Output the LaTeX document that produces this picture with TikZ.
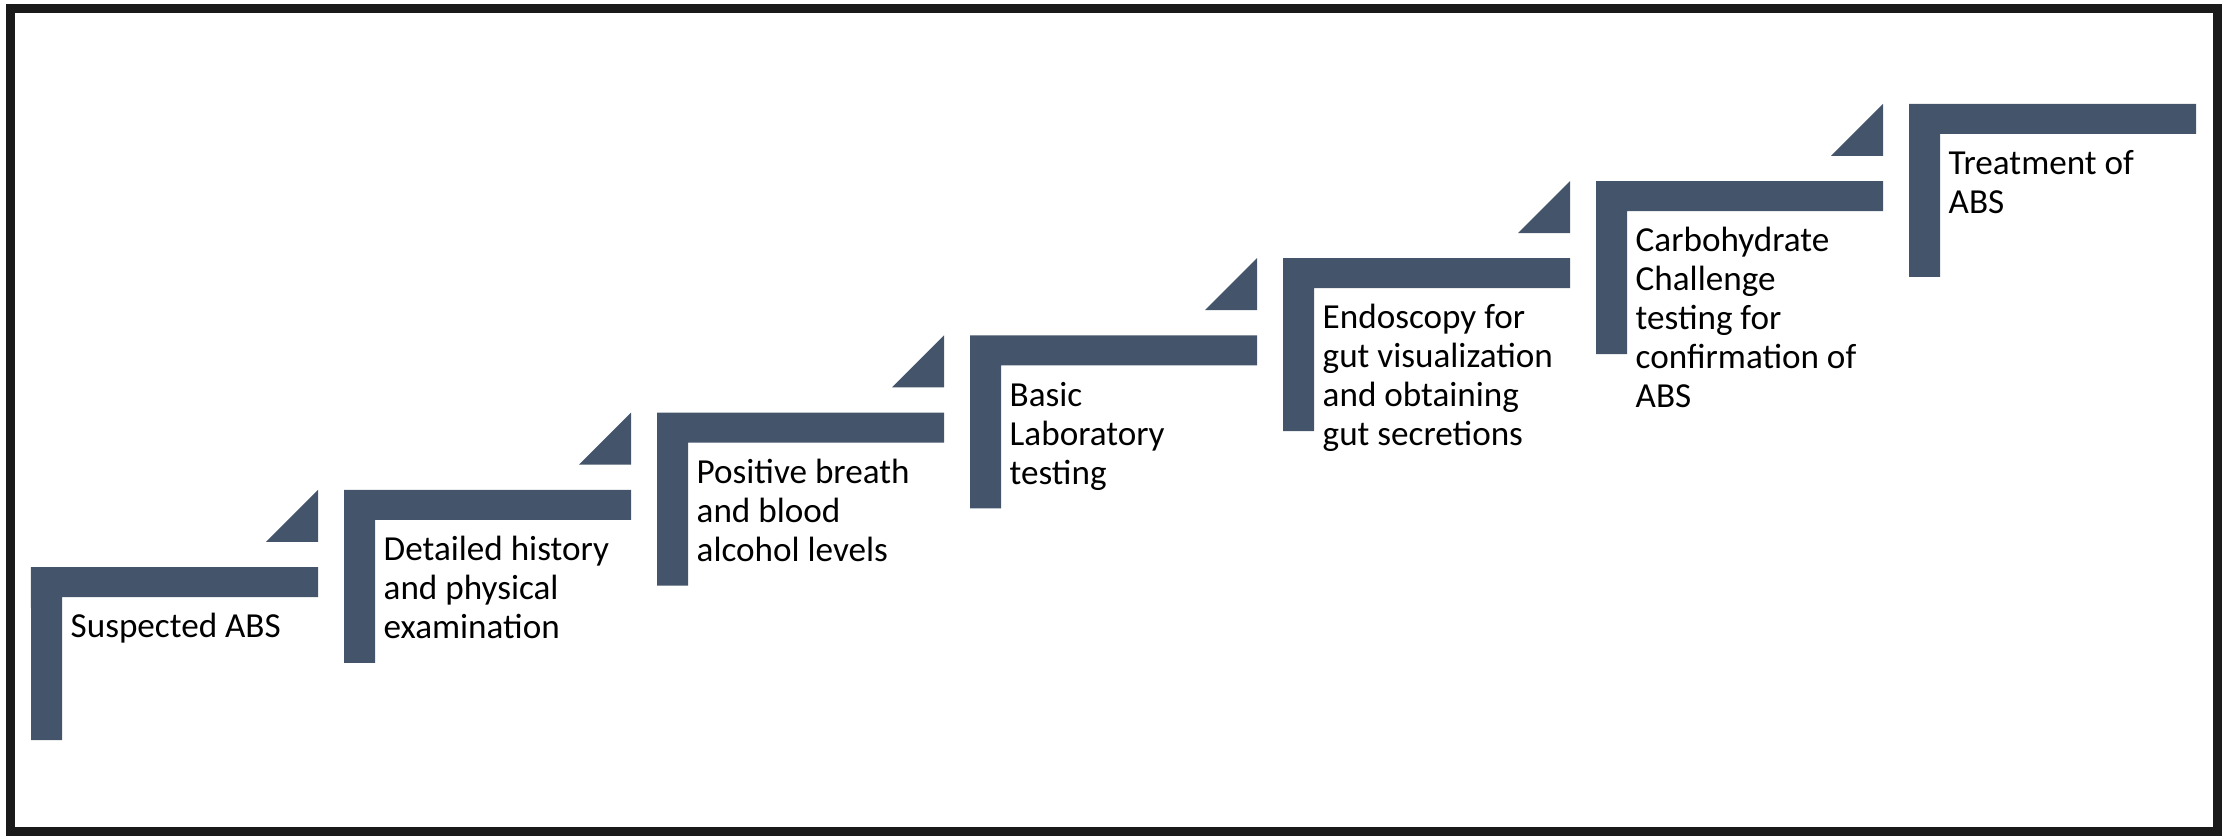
\documentclass[tikz,border=0pt]{standalone}
\usepackage{fontspec}
\setmainfont{Carlito}
\usepackage{xcolor}
\usepackage{tikz}
\usetikzlibrary{positioning,calc}
\definecolor{stepblue}{HTML}{44546A}
\definecolor{framedark}{HTML}{1A1A1A}
\tikzset{
  steptext/.style={anchor=north west,inner sep=0pt,align=left,
    font=\fontsize{10}{11.1}\selectfont},
  stepfill/.style={fill=stepblue,draw=none}
}

\begin{document}
\begin{tikzpicture}[line cap=rect,line join=miter,x=1.0cm,y=1.0cm]
\useasboundingbox (0,0) rectangle (22.28,8.36);
% outer frame
\draw[line width=0.09cm,color=framedark] (0.10,0.05) rectangle (22.17,8.28);
% the seven steps
\foreach \i/\txt in {0/{Suspected ABS},
                     1/{Detailed history\\and physical\\examination},
                     2/{Positive breath\\and blood\\alcohol levels},
                     3/{Basic\\Laboratory\\testing},
                     4/{Endoscopy for\\gut visualization\\and obtaining\\gut secretions},
                     5/{Carbohydrate\\Challenge\\testing for\\confirmation of\\ABS},
                     6/{Treatment of\\ABS}}
{
  \coordinate (c\i) at ({0.31+3.13*\i},{2.69+0.772*\i});
  \fill[stepfill] (c\i) -- ++(2.87,0) -- ++(0,-0.30) -- ++(-2.56,0)
     -- ++(0,-1.43) -- ++(-0.31,0) -- cycle;
  % first baseline sits 0.70 below the top of the bar
  \node[steptext] (step\i) at ($(c\i)+(0.39,-0.70)+(0,8pt)$) {\rule{0pt}{8pt}\txt};
}
% small triangles leading up to the next step
\foreach \i in {0,...,5}
{
  \fill[stepfill] ($(c\i)+(2.87,0.772)$) -- ++(0,-0.52) -- ++(-0.52,0) -- cycle;
}
\end{tikzpicture}
\end{document}
